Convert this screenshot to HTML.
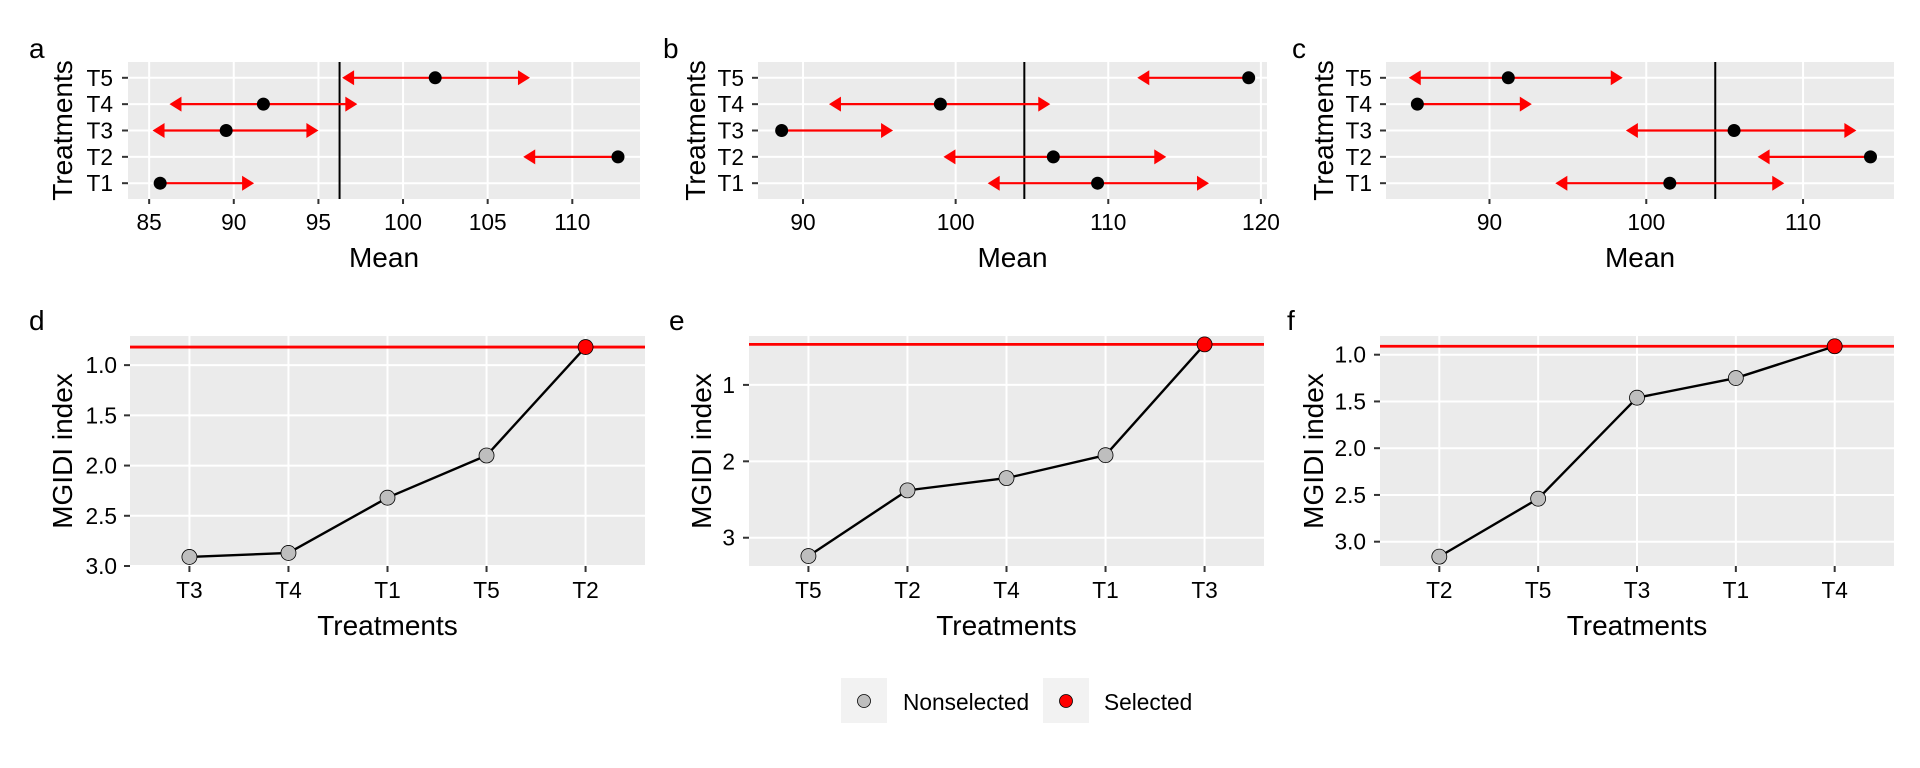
<!DOCTYPE html>
<html><head><meta charset="utf-8">
<style>
html,body{margin:0;padding:0;background:#fff;}
svg{display:block;font-family:"Liberation Sans",Arial,sans-serif;}
</style></head>
<body>
<svg id="fig" width="1920" height="768" viewBox="0 0 1920 768" xmlns="http://www.w3.org/2000/svg">
<rect x="0" y="0" width="1920" height="768" fill="#fff"/>
<g id="legend">
  <rect x="841" y="678" width="46" height="45" fill="#F2F2F2"/>
  <circle cx="864" cy="701" r="6.5" fill="#BEBEBE" stroke="#000" stroke-width="0.8"/>
  <text x="903" y="710" font-size="22.7">Nonselected</text>
  <rect x="1043" y="678" width="46" height="45" fill="#F2F2F2"/>
  <circle cx="1066" cy="701" r="6.5" fill="#FF0000" stroke="#000" stroke-width="0.8"/>
  <text x="1104" y="710" font-size="22.7">Selected</text>
</g>
</svg>
<script>
// ---- Top-row data (panels a, b, c): rows T1..T5 ----
const treatRows = ["T1","T2","T3","T4","T5"];
const meanA = [85.65, 112.7, 89.55, 91.75, 101.9];
const loA   = [null, 107.1, 85.2, 86.2, 96.4];
const hiA   = [91.2, null, 95.0, 97.3, 107.5];
const refA  = 96.25;
const ticksA = [85, 90, 95, 100, 105, 110];

const meanB = [109.3, 106.4, 88.6, 99.0, 119.2];
const loB   = [102.1, 99.2, null, 91.7, 111.9];
const hiB   = [116.6, 113.8, 95.9, 106.2, null];
const refB  = 104.5;
const ticksB = [90, 100, 110, 120];

const meanC = [101.5, 114.3, 105.6, 85.4, 91.2];
const loC   = [94.2, 107.1, 98.7, null, 84.85];
const hiC   = [108.8, null, 113.4, 92.7, 98.5];
const refC  = 104.4;
const ticksC = [90, 100, 110];

// ---- Bottom-row data (panels d, e, f) ----
const catsD = ["T3","T4","T1","T5","T2"];
const mgidiD = [2.91, 2.87, 2.32, 1.90, 0.82];
const ticksD = [1.0, 1.5, 2.0, 2.5, 3.0];
const tickLabD = ["1.0","1.5","2.0","2.5","3.0"];

const catsE = ["T5","T2","T4","T1","T3"];
const mgidiE = [3.24, 2.38, 2.22, 1.92, 0.47];
const ticksE = [1, 2, 3];
const tickLabE = ["1","2","3"];

const catsF = ["T2","T5","T3","T1","T4"];
const mgidiF = [3.16, 2.54, 1.46, 1.25, 0.91];
const ticksF = [1.0, 1.5, 2.0, 2.5, 3.0];
const tickLabF = ["1.0","1.5","2.0","2.5","3.0"];

const NS = "http://www.w3.org/2000/svg";
const svg = document.getElementById("fig");
function mk(tag, attrs, parent){
  const e = document.createElementNS(NS, tag);
  for (const k in attrs) e.setAttribute(k, attrs[k]);
  (parent||svg).appendChild(e);
  return e;
}
function txt(str, attrs, parent){ const t = mk("text", attrs, parent); t.textContent = str; return t; }

function topPanel(letter, P, mean, lo, hi, ref, ticks, dom, letterX, titleX, labRight){
  const g = mk("g", {});
  
  
  const sx = v => P.l + (v - dom[0]) / (dom[1] - dom[0]) * (P.r - P.l);
  const n = treatRows.length;
  const step = (P.b - P.t) / (n - 1 + 1.2);
  const sy = i => P.b - step * (0.6 + i);
  const bg = mk("rect", {x:P.l, y:P.t, width:P.r-P.l, height:P.b-P.t, fill:"#EBEBEB"}, g);
  
  
  ticks.forEach(v => {
    const gl = mk("line", {x1:sx(v), x2:sx(v), y1:P.t, y2:P.b, stroke:"#fff", "stroke-width":2}, g);
    
    
    mk("line", {x1:sx(v), x2:sx(v), y1:P.b, y2:P.b+5, stroke:"#333", "stroke-width":2}, g);
    const tl = txt(String(v), {x:sx(v), y:P.b+31, "font-size":22.7, "text-anchor":"middle", fill:"#000"}, g);
    
    
  });
  treatRows.forEach((r, i) => {
    const gl = mk("line", {x1:P.l, x2:P.r, y1:sy(i), y2:sy(i), stroke:"#fff", "stroke-width":2}, g);
    
    
    mk("line", {x1:P.l-6, x2:P.l, y1:sy(i), y2:sy(i), stroke:"#333", "stroke-width":2}, g);
    const tl = txt(r, {x:labRight, y:sy(i)+8, "font-size":22.7, "text-anchor":"end", fill:"#000"}, g);
    
    
  });
  const vl = mk("line", {x1:sx(ref), x2:sx(ref), y1:P.t, y2:P.b, stroke:"#000", "stroke-width":2}, g);
  
  
  treatRows.forEach((r, i) => {
    const y = sy(i), xm = sx(mean[i]);
    const ends = [];
    if (lo[i] !== null) ends.push(sx(lo[i]));
    if (hi[i] !== null) ends.push(sx(hi[i]));
    ends.forEach(xe => {
      const dir = xe < xm ? -1 : 1;
      const ln = mk("line", {x1:xm, x2:xe - dir*10, y1:y, y2:y, stroke:"#FF0000", "stroke-width":2.2}, g);
      
      
      const hd = mk("polygon", {points:`${xe},${y} ${xe-dir*12},${y-7.5} ${xe-dir*12},${y+7.5}`, fill:"#FF0000"}, g);
      
      
    });
    const pt = mk("circle", {cx:xm, cy:y, r:6.5, fill:"#000"}, g);
    
    
  });
  const lt = txt(letter, {x:letterX, y:58, "font-size":28, fill:"#000"}, g);
  
  
  const xt = txt("Mean", {x:(P.l+P.r)/2, y:P.b+68, "font-size":28, "text-anchor":"middle", fill:"#000"}, g);
  
  
  const cy = (P.t+P.b)/2;
  const yt = txt("Treatments", {x:titleX, y:cy, "font-size":28, "text-anchor":"middle", transform:`rotate(-90 ${titleX} ${cy})`, fill:"#000"}, g);
  
  
}

function bottomPanel(letter, P, cats, vals, ticks, tickLab, dom, letterX, titleX, labRight){
  const g = mk("g", {});
  
  
  const n = cats.length;
  const step = (P.r - P.l) / (n - 1 + 1.2);
  const sx = i => P.l + step * (0.6 + i);
  const sy = v => P.t + (v - dom[0]) / (dom[1] - dom[0]) * (P.b - P.t); // reversed axis
  const bg = mk("rect", {x:P.l, y:P.t, width:P.r-P.l, height:P.b-P.t, fill:"#EBEBEB"}, g);
  
  
  ticks.forEach((v, k) => {
    const gl = mk("line", {x1:P.l, x2:P.r, y1:sy(v), y2:sy(v), stroke:"#fff", "stroke-width":2}, g);
    
    
    mk("line", {x1:P.l-6, x2:P.l, y1:sy(v), y2:sy(v), stroke:"#333", "stroke-width":2}, g);
    const tl = txt(tickLab[k], {x:labRight, y:sy(v)+8, "font-size":22.7, "text-anchor":"end", fill:"#000"}, g);
    
    
  });
  cats.forEach((c, i) => {
    const gl = mk("line", {x1:sx(i), x2:sx(i), y1:P.t, y2:P.b, stroke:"#fff", "stroke-width":2}, g);
    
    
    mk("line", {x1:sx(i), x2:sx(i), y1:P.b, y2:P.b+6, stroke:"#333", "stroke-width":2}, g);
    const tl = txt(c, {x:sx(i), y:P.b+32, "font-size":22.7, "text-anchor":"middle", fill:"#000"}, g);
    
    
  });
  const minV = Math.min.apply(null, vals);
  const hl = mk("line", {x1:P.l, x2:P.r, y1:sy(minV), y2:sy(minV), stroke:"#FF0000", "stroke-width":2.8}, g);
  
  
  const pts = vals.map((v, i) => sx(i) + "," + sy(v)).join(" ");
  const pl = mk("polyline", {points:pts, fill:"none", stroke:"#000", "stroke-width":2.4}, g);
  
  
  vals.forEach((v, i) => {
    const sel = v === minV;
    const pt = mk("circle", {cx:sx(i), cy:sy(v), r:7.5, fill: sel ? "#FF0000" : "#BEBEBE", stroke:"#000", "stroke-width":0.8}, g);
    
    
  });
  const lt = txt(letter, {x:letterX, y:330, "font-size":28, fill:"#000"}, g);
  
  
  const xt = txt("Treatments", {x:(P.l+P.r)/2, y:P.b+69, "font-size":28, "text-anchor":"middle", fill:"#000"}, g);
  
  
  const cy = (P.t+P.b)/2;
  const yt = txt("MGIDI index", {x:titleX, y:cy, "font-size":28, "text-anchor":"middle", transform:`rotate(-90 ${titleX} ${cy})`, fill:"#000"}, g);
  
  
}

topPanel("a", {l:128, r:640, t:62, b:199}, meanA, loA, hiA, refA, ticksA, [83.75, 114.0], 29, 72, 113);
topPanel("b", {l:758, r:1267, t:62, b:199}, meanB, loB, hiB, refB, ticksB, [87.05, 120.4], 663, 705, 744);
topPanel("c", {l:1386, r:1894, t:62, b:199}, meanC, loC, hiC, refC, ticksC, [83.4, 115.8], 1292, 1333, 1372);

bottomPanel("d", {l:130, r:645, t:336, b:566}, catsD, mgidiD, ticksD, tickLabD, [0.71, 3.0], 29, 72, 117);
bottomPanel("e", {l:749, r:1264, t:336, b:566}, catsE, mgidiE, ticksE, tickLabE, [0.36, 3.37], 669, 711, 735);
bottomPanel("f", {l:1380, r:1894, t:336, b:566}, catsF, mgidiF, ticksF, tickLabF, [0.80, 3.26], 1287, 1323, 1366);

svg.appendChild(document.getElementById("legend"));
</script>
</body></html>
